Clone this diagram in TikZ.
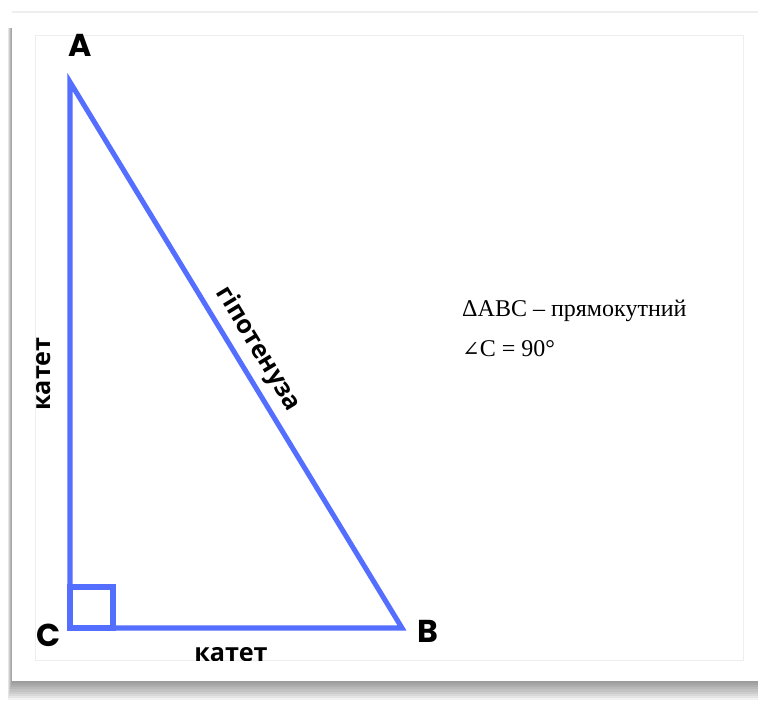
\documentclass[tikz,border=0pt]{standalone}
\usepackage{fontspec}
\setmainfont{Liberation Serif}
\newfontfamily\vertexfont{Poppins}
\newfontfamily\sidefont{Open Sans}
\newfontfamily\symfont{DejaVu Serif}
\usepackage{tikz}
\usetikzlibrary{positioning,calc}
\definecolor{legblue}{RGB}{84,110,255}
\definecolor{panelgray}{RGB}{238,238,238}
\tikzset{
  leg/.style={draw=legblue,line width=4.3pt,line join=miter},
  vertex/.style={font=\vertexfont\bfseries\fontsize{27}{30}\selectfont,inner sep=0pt},
  side/.style={font=\sidefont\bfseries\fontsize{21.5}{25}\selectfont,inner sep=0pt},
  note/.style={font=\fontsize{20.5}{24}\selectfont,anchor=base west,inner sep=0pt},
}
\begin{document}
\begin{tikzpicture}[x=0.3mm,y=-0.3mm]
  \useasboundingbox (0,0) rectangle (758,702);
  \fill[white] (0,0) rectangle (758,702);
  \foreach \k in {1,...,9}
    \fill[black,opacity=0.05] (12-\k*0.5,28) rectangle (760,681+\k*2.1);
  \fill[white] (12,12) rectangle (760,681);
  \draw[panelgray,line width=1.2pt] (12,12) -- (760,12);
  \draw[panelgray,line width=0.8pt] (35,35) rectangle (743,660);

  \coordinate (A) at (70,82);
  \coordinate (C) at (70,628);
  \coordinate (B) at (402,628);

  \begin{scope}
    \clip (35,35) rectangle (743,660);
    \draw[leg] (C) rectangle ($(C)+(43,-41)$);
    \draw[leg] (A) -- (B) -- (C) -- cycle;
    \node[side,anchor=base] (kbot) at (231,661) {катет};
  \end{scope}

  \node[vertex] (lblA) at (80,45) {A};
  \node[vertex] (lblB) at (428,631) {B};
  \node[vertex] (lblC) at (49,635) {C};

  \node[side,rotate=90] (kleft) at (44,374) {катет};
  \node[side,rotate=-58.7] (hyp) at (258,349) {гіпотенуза};

  \node[note] (tri) at (462,316) {Δ{}ABC – прямокутний};
  \node[note] (ang) at (462,356) {{\symfont\fontsize{18}{22}\selectfont ∠}C = 90°};
\end{tikzpicture}
\end{document}
